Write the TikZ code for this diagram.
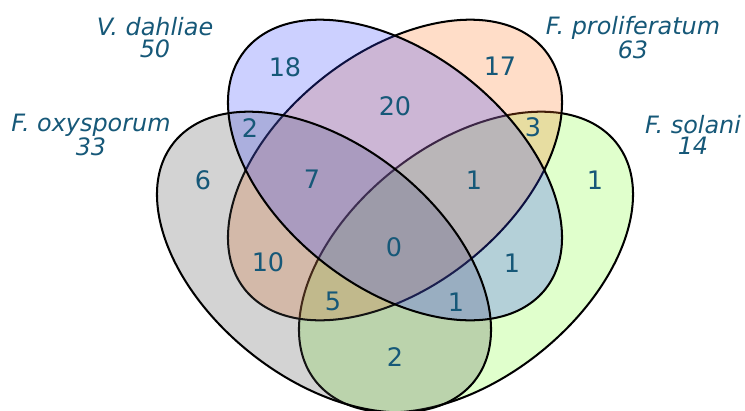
\documentclass[tikz,border=0pt]{standalone}
\usepackage{fontspec}
\setmainfont{DejaVu Sans}
\definecolor{lbl}{RGB}{22,88,120}
\definecolor{cgray}{RGB}{79,79,79}
\definecolor{cblue}{RGB}{51,67,255}
\definecolor{corange}{RGB}{255,119,35}
\definecolor{cgreen}{RGB}{131,255,51}
\begin{document}
\begin{tikzpicture}[x=0.02cm,y=-0.02cm,
  setfill/.style={fill=#1, fill opacity=0.25},
  setline/.style={draw=black, line width=1.15pt},
  count/.style={text=lbl, inner sep=0pt, font=\fontsize{14.5}{16}\selectfont},
  setname/.style={text=lbl, inner sep=0pt, align=center, font=\fontsize{13.6}{12.3}\selectfont\itshape}]
\useasboundingbox (0,0) rectangle (745,410);

% ellipse geometry: semi-axes 201 x 124, tilted 45 degrees, squeezed vertically
\def\setshape{(0,0) ellipse [x radius=201, y radius=124]}

% F. solani
\begin{scope}[shift={(466,262)}, yscale=0.9, rotate=45]
  \path[setfill=cgreen] \setshape;
  \path[setline] \setshape;
\end{scope}
% F. proliferatum
\begin{scope}[shift={(395,170)}, yscale=0.9, rotate=45]
  \path[setfill=corange] \setshape;
  \path[setline] \setshape;
\end{scope}
% F. oxysporum and V. dahliae
\begin{scope}[shift={(324,262)}, yscale=0.9, rotate=-45]
  \path[setfill=cgray] \setshape;
\end{scope}
\begin{scope}[shift={(395,170)}, yscale=0.9, rotate=-45]
  \path[setfill=cblue] \setshape;
\end{scope}
\begin{scope}[shift={(324,262)}, yscale=0.9, rotate=-45]
  \path[setline] \setshape;
\end{scope}
\begin{scope}[shift={(395,170)}, yscale=0.9, rotate=-45]
  \path[setline] \setshape;
\end{scope}

% set names with totals
\node[setname] (lbV) at (155,37.5) {V. dahliae\\50};
\node[setname] (lbP) at (633,37.5) {F. proliferatum\\63};
\node[setname] (lbO) at (91,135) {F. oxysporum\\33};
\node[setname] (lbS) at (693,135) {F. solani\\14};

% region counts
\node[count] (cV)    at (285,67)  {18};
\node[count] (cP)    at (500,66)  {17};
\node[count] (cVP)   at (395,106) {20};
\node[count] (cOV)   at (250,128) {2};
\node[count] (cPS)   at (533,127) {3};
\node[count] (cO)    at (203,180) {6};
\node[count] (cOVP)  at (312,179) {7};
\node[count] (cVPS)  at (474,180) {1};
\node[count] (cS)    at (595,180) {1};
\node[count] (cAll)  at (394,247) {0};
\node[count] (cOP)   at (268,262) {10};
\node[count] (cVS)   at (512,263) {1};
\node[count] (cOPS)  at (333,301) {5};
\node[count] (cOVS)  at (456,302) {1};
\node[count] (cOS)   at (395,357) {2};
\end{tikzpicture}
\end{document}
